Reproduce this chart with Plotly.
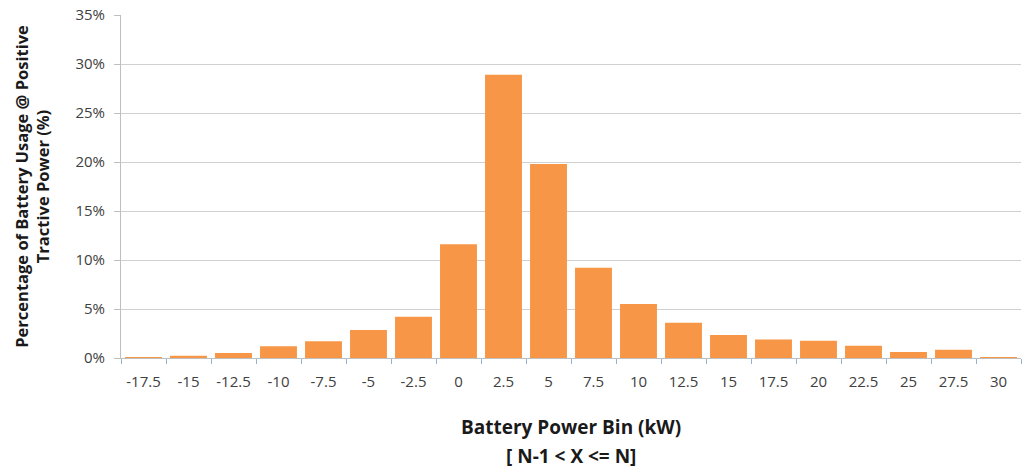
import plotly.graph_objects as go

bins = ["-17.5", "-15", "-12.5", "-10", "-7.5", "-5", "-2.5", "0", "2.5", "5",
        "7.5", "10", "12.5", "15", "17.5", "20", "22.5", "25", "27.5", "30"]
usage_pct = [0.1, 0.23, 0.5, 1.2, 1.7, 2.85, 4.2, 11.6, 28.9, 19.8,
             9.2, 5.5, 3.6, 2.35, 1.9, 1.75, 1.25, 0.6, 0.85, 0.07]
y_ticks = [0, 5, 10, 15, 20, 25, 30, 35]
y_tick_text = [f"{v}%" for v in y_ticks]

FONT = "Open Sans, Liberation Sans, sans-serif"

fig = go.Figure()
fig.add_trace(go.Bar(
    x=bins, y=usage_pct,
    marker=dict(color="#F79646", line=dict(width=0)),
    hoverinfo="skip",
))

fig.update_layout(
    width=1023, height=469,
    margin=dict(l=121, r=2, t=15, b=111),
    plot_bgcolor="white", paper_bgcolor="white",
    bargap=0.18,
    showlegend=False,
    font=dict(family=FONT, color="#404040", size=15),
    xaxis=dict(
        type="category",
        tickson="boundaries",
        tickangle=0,
        ticks="outside", ticklen=5, tickcolor="#95B3D7",
        showline=True, linecolor="#BFBFBF", linewidth=1,
        showgrid=False,
        ticklabelstandoff=10,
        tickfont=dict(size=15, color="#404040"),
    ),
    yaxis=dict(
        range=[0, 35],
        tickvals=y_ticks, ticktext=y_tick_text,
        ticks="outside", ticklen=6, tickcolor="#BFBFBF",
        showline=True, linecolor="#BFBFBF", linewidth=1,
        showgrid=True, gridcolor="#D0D0D0", gridwidth=1,
        zeroline=False,
        ticklabelstandoff=6,
        tickfont=dict(size=15, color="#404040"),
        title=dict(
            text="Percentage of Battery Usage @ Positive<br>Tractive Power (%)",
            font=dict(size=16.5, color="#1a1a1a", family=FONT, weight="bold"),
            standoff=21,
        ),
    ),
    annotations=[
        dict(text="<b>Battery Power Bin (kW)</b>", xref="paper", yref="paper",
             x=0.5, y=-0.2, xanchor="center", yanchor="middle", showarrow=False,
             font=dict(size=19, color="#1a1a1a", family=FONT)),
        dict(text="<b>[ N-1 < X <= N]</b>", xref="paper", yref="paper",
             x=0.5, y=-0.285, xanchor="center", yanchor="middle", showarrow=False,
             font=dict(size=19, color="#1a1a1a", family=FONT)),
    ],
)

fig.write_html("out.html")
